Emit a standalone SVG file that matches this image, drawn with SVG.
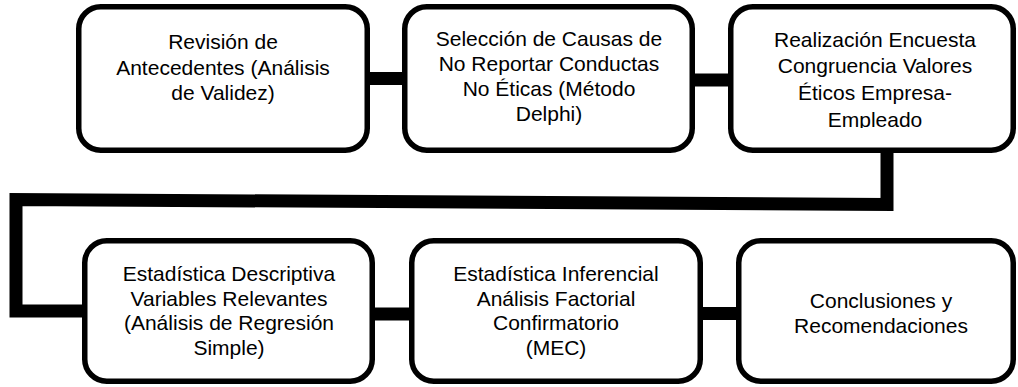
<svg xmlns="http://www.w3.org/2000/svg" width="1018" height="387" viewBox="0 0 1018 387">
<defs>
<style>
.box{fill:#fff;stroke:#000;stroke-width:5.5}
.conn{fill:none;stroke:#000;stroke-width:13;stroke-linejoin:miter;stroke-linecap:butt}
text{font-family:"Liberation Sans",Arial,sans-serif;font-size:21px;fill:#000;text-anchor:middle}
</style>
<clipPath id="clipEmp"><rect x="720" y="0" width="298" height="128"/></clipPath>
</defs>
<rect width="1018" height="387" fill="#fff"/>
<g id="connectors">
<line class="conn" x1="368" y1="78.5" x2="405" y2="78.5"/>
<line class="conn" x1="692" y1="80" x2="731" y2="80"/>
<polyline class="conn" points="887,150 887,204.5 16,199.5 16,311 85,311"/>
<line class="conn" x1="372" y1="314" x2="412" y2="314"/>
<line class="conn" x1="700" y1="313.5" x2="739" y2="313.5"/>
</g>
<g id="n1">
<rect class="box" x="78.75" y="6.75" width="288.5" height="143.5" rx="22"/>
<text x="223" y="49">Revisión de</text>
<text x="223" y="74.5">Antecedentes (Análisis</text>
<text x="223" y="100">de Validez)</text>
</g>
<g id="n2">
<rect class="box" x="404.75" y="6.75" width="287.5" height="143.5" rx="22"/>
<text x="549" y="46">Selección de Causas de</text>
<text x="549" y="71">No Reportar Conductas</text>
<text x="549" y="96">No Éticas (Método</text>
<text x="549" y="121">Delphi)</text>
</g>
<g id="n3">
<rect class="box" x="730.75" y="6.75" width="282.5" height="143.5" rx="22"/>
<text x="875" y="46.5">Realización Encuesta</text>
<text x="875" y="73">Congruencia Valores</text>
<text x="875" y="100">Éticos Empresa-</text>
<text x="875" y="127" clip-path="url(#clipEmp)">Empleado</text>
</g>
<g id="n4">
<rect class="box" x="84.75" y="240.75" width="287.5" height="140.5" rx="22"/>
<text x="229" y="281">Estadística Descriptiva</text>
<text x="229" y="305.5">Variables Relevantes</text>
<text x="229" y="330">(Análisis de Regresión</text>
<text x="229" y="354.5">Simple)</text>
</g>
<g id="n5">
<rect class="box" x="411.75" y="240.75" width="288.5" height="140.5" rx="22"/>
<text x="556" y="281">Estadística Inferencial</text>
<text x="556" y="305.5">Análisis Factorial</text>
<text x="556" y="330">Confirmatorio</text>
<text x="556" y="354.5">(MEC)</text>
</g>
<g id="n6">
<rect class="box" x="738.75" y="240.75" width="274.5" height="140.5" rx="22"/>
<text x="881" y="308">Conclusiones y</text>
<text x="881" y="333">Recomendaciones</text>
</g>
</svg>
